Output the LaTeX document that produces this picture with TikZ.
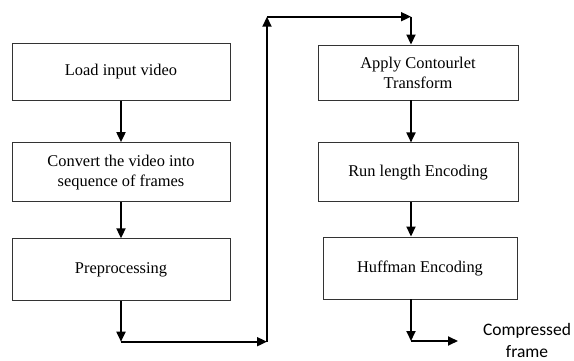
\documentclass[tikz,border=0pt]{standalone}
\usepackage{fontspec}
\setmainfont{Liberation Serif}
\newfontfamily\calfont{Carlito}
\usepackage{tikz}
\usetikzlibrary{arrows.meta,positioning,calc}
\definecolor{boxgray}{RGB}{51, 51, 51}

\begin{document}
\begin{tikzpicture}[x=1pt, y=-1pt, >={Triangle[length=10pt, width=9pt]},
			stepbox/.style={draw=boxgray, line width=0.9pt, rectangle, minimum width=218pt, align=center, font=\fontsize{16.4}{20}\selectfont},
			flow/.style={line width=1.8pt, ->, color=black},
			outtext/.style={draw=none, align=center, inner sep=1pt, font=\calfont\fontsize{17.5}{22}\selectfont}
			]
			\useasboundingbox (0,0) rectangle (574,361);
			% left column
			\node[stepbox, minimum height=57pt](load) at (121,71.8) {Load input video};
			\node[stepbox, minimum height=59pt](convert) [below = 41.4pt of load] {Convert the video into\\sequence of frames};
			\node[stepbox, minimum height=62pt](prep) [below = 36.3pt of convert] {Preprocessing};
			
			% right column
			\node[stepbox, minimum width=200pt, minimum height=55pt](apply) at (418,72.5) {Apply Contourlet\\Transform};
			\node[stepbox, minimum width=200pt, minimum height=59pt](runlen) [below = 42pt of apply] {Run length Encoding};
			\node[stepbox, minimum width=194pt, minimum height=62pt](huff) at (420,268) {Huffman Encoding};
			
			\node[outtext](out) at (527,340) {Compressed\\frame};
			
			\coordinate (rx) at (411,0);
			\coordinate (c1) at (121,341.7);
			\coordinate (c2) at (267,341.7);
			\coordinate (c3) at (267,16.7);
			\coordinate (c4) at (411,16.7);
			\coordinate (c5) at (411,341);
			\coordinate (c6) at (458,341);
			
			\draw [flow] (load) to (convert);
			\draw [flow] (convert) to (prep);
			\draw [flow] (prep) to (c1);
			\draw [flow] (c1) to (c2);
			\draw [flow] (c2) to (c3);
			\draw [flow] (c3) to (c4);
			\draw [flow] (c4) to (apply.north -| rx);
			\draw [flow] (apply.south -| rx) to (runlen.north -| rx);
			\draw [flow] (runlen.south -| rx) to (huff.north -| rx);
			\draw [flow] (huff.south -| rx) to (c5);
			\draw [flow] (c5) to (c6);
\end{tikzpicture}
\end{document}
